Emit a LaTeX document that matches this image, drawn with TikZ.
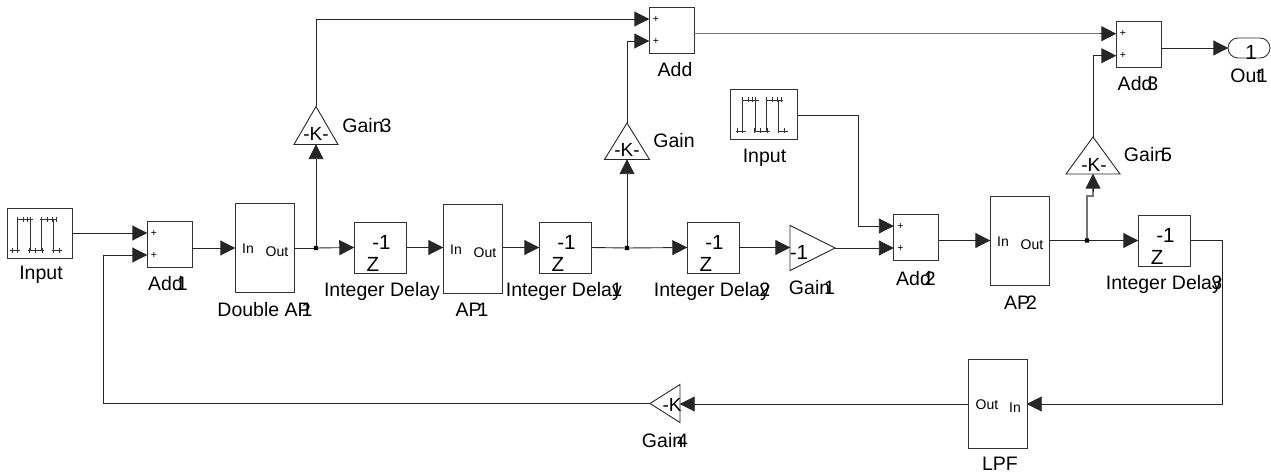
\documentclass[tikz,border=0pt]{standalone}
\usepackage{fontspec}
\setmainfont{Liberation Sans}
\usetikzlibrary{arrows.meta,shapes.geometric,shapes.misc}
\newcommand{\ov}[2]{\kern-#1pt #2}
\tikzset{
  x=1pt,y=-1pt,
  blk/.style={draw=black!80,line width=0.9pt,inner sep=0pt,outer sep=0pt,fill=white},
  tri/.style={draw=black!85,line width=0.9pt,inner sep=0pt,outer sep=0pt,isosceles triangle,isosceles triangle stretches},
  lbl/.style={inner sep=0pt,font=\fontsize{19.5}{21}\selectfont},
  port/.style={inner sep=0pt,font=\fontsize{14}{16}\selectfont},
  plus/.style={inner sep=0pt,font=\fontsize{10.5}{12}\selectfont},
  zt/.style={inner sep=0pt,font=\fontsize{20.5}{23}\selectfont},
  wire/.style={draw=black!85,line width=0.9pt,-{Triangle[length=15pt,width=15pt]},shorten >=-0.3pt},
  gwire/.style={draw=black!55,line width=1.5pt},
  seg/.style={draw=black!85,line width=0.9pt},
  tickl/.style={draw=black!80,line width=0.8pt}
}
% name, x0,y0,x1,y1
\newcommand{\blk}[5]{\node[blk,minimum width={#4-#2},minimum height={#5-#3},anchor=north west] (#1) at (#2,#3) {};}
\newcommand{\addblk}[3]{% name,x0,y0
  \blk{#1}{#2}{#3}{#2+45}{#3+46}
  \node[plus] (#1pa) at (#2+7,#3+12) {+};
  \node[plus] (#1pb) at (#2+7,#3+34) {+};
  \coordinate (#1a) at (#2,#3+12);
  \coordinate (#1b) at (#2,#3+34);}
\newcommand{\zblk}[3]{% name,x0,y0
  \blk{#1}{#2}{#3}{#2+52}{#3+51}
  \node[zt] (#1m) at (#2+27.5,#3+20) {-1};
  \node[zt] (#1z) at (#2+19,#3+42) {Z};}
\newcommand{\apblk}[3]{% name,x0,y0
  \blk{#1}{#2}{#3}{#2+59}{#3+89}
  \node[port] (#1i) at (#2+13,#3+46) {In};
  \node[port] (#1o) at (#2+42,#3+49) {Out};
  \coordinate (#1a) at (#2,#3+45);
  \coordinate (#1b) at (#2+59,#3+45);}
\newcommand{\pulse}[5]{% name,x0,y0,width,icon shift
  \blk{#1}{#2}{#3}{#2+#4}{#3+50.5}
  \begin{scope}[shift={(#2-7+#5,#3-208)}]
    \draw[tickl] (17,219)--(33,219) (40,219)--(57,219)
      (10,250)--(20,250) (28,250)--(44,250) (52,250)--(62,250);
    \draw[tickl] (17,219)--(17,250) (30,219)--(30,250) (41,219)--(41,250) (53,219)--(53,250);
    \foreach \t in {17,23,27,30,41,47,52,56}{\draw[tickl] (\t,216.5)--(\t,221.5);}
    \foreach \t in {12,17,29,35,42,53,59}{\draw[tickl] (\t,247.5)--(\t,252.5);}
  \end{scope}}
\begin{document}
\begin{tikzpicture}
\useasboundingbox (0,0) rectangle (1271,473);
% blocks
\pulse{inA}{7}{208}{65}{0}
\pulse{inB}{730.5}{89}{67}{2}
\addblk{addA}{147}{221}
\addblk{addB}{649}{7}
\addblk{addC}{893.5}{214}
\addblk{addD}{1116}{21.7}
\apblk{dap}{235}{203}
\apblk{apA}{443}{204}
\apblk{apB}{990}{196}
\zblk{idA}{354}{222}
\zblk{idB}{539}{222}
\zblk{idC}{687}{222}
\zblk{idD}{1138}{215}
% LPF
\blk{lpf}{968}{359}{1027}{448}
\node[port] (lpfo) at (987,405) {Out};
\node[port] (lpfi) at (1015,408) {In};
\coordinate (lpfa) at (1027,404);
\coordinate (lpfb) at (968,404);
% Out1
\node[blk,rounded rectangle,minimum width=42pt,minimum height=20pt,anchor=west] (out) at (1228,48) {};
\node[zt] (outn) at (1251,52) {1};
% triangles
\node[tri,shape border rotate=90,minimum width=44pt,minimum height=38pt,anchor=apex] (gA) at (316,106.5) {};
\node[tri,shape border rotate=90,minimum width=45pt,minimum height=36.5pt,anchor=apex] (gB) at (627,123) {};
\node[tri,shape border rotate=90,minimum width=54pt,minimum height=37pt,anchor=apex] (gC) at (1093,137) {};
\node[tri,shape border rotate=0,minimum width=45pt,minimum height=45pt,anchor=apex] (gD) at (835,248) {};
\node[tri,shape border rotate=180,minimum width=38pt,minimum height=30pt,anchor=apex] (gE) at (650,403.5) {};
\node[zt,font=\fontsize{19}{21}\selectfont] (gAt) at (316,134) {-K-};
\node[zt,font=\fontsize{19}{21}\selectfont] (gBt) at (627,150) {-K-};
\node[zt,font=\fontsize{19}{21}\selectfont] (gCt) at (1094,165) {-K-};
\node[zt] (gDt) at (799,252) {-1};
\node[zt,font=\fontsize{19}{21}\selectfont] (gEt) at (672,405) {-K};
% connectors
\coordinate (jA) at (316,248);
\coordinate (jB) at (627,248);
\coordinate (jC) at (1087,240.5);
\coordinate (idDo) at (idD.east);
\draw[wire] (inA.east |- addAa) -- (addAa);
\draw[wire] (gE.apex) -- (103,403.5) -- (103,255) -- (addAb);
\draw[wire] (addA.east |- dapa) -- (dapa);
\draw[seg] (dap.east |- jA) -- (jA);
\draw[wire] (jA) -- (idA.west);
\draw[wire] (idA.east) -- (idA.east -| apA.west);
\draw[wire] (apA.east |- idB.west) -- (idB.west);
\draw[seg] (idB.east) -- (jB);
\draw[wire] (jB) -- (idC.west);
\draw[wire] (idC.east) -- (gD.west |- idC.east);
\draw[wire] (gD.apex) -- (addCb);
\draw[wire] (addC.east |- jC) -- (apB.west |- jC);
\draw[seg] (apB.east |- jC) -- (jC);
\draw[wire] (jC) -- (idD.west);
\draw[wire] (idDo) -- (1222,240.5) -- (1222,404) -- (lpfa);
\draw[wire] (lpfb) -- (gE.east |- lpfb);
\draw[wire] (jA) -- (gA.south);
\draw[wire] (gA.apex) -- (316,19) -- (addBa);
\draw[wire] (jB) -- (gB.south);
\draw[wire] (gB.apex) -- (627,41) -- (addBb);
\draw[gwire] (addB.east |- addDa) -- (1103,33.7);
\draw[wire] (1100,33.7) -- (addDa);
\draw[gwire] (jC) -- (1087,196) -- (1093,196) -- (1093,188);
\draw[wire] (1093,192) -- (gC.south);
\draw[wire] (gC.apex) -- (1093,55.7) -- (addDb);
\draw[wire] (addD.east |- out.west) -- (out.west);
\draw[wire] (inB.east |- 0,115) -- (858,115) -- (858,226) -- (addCa);
\fill[black] (313.8,245.8) rectangle (318.2,250.2) (624.8,245.8) rectangle (629.2,250.2) (1084.8,238.3) rectangle (1089.2,242.7);
% labels
\node[lbl] (t1) at (41,275) {Input};
\node[lbl] (t2) at (168,284) {Add\ov{6}{1}};
\node[lbl] (t3) at (265,310) {Double AP\ov{9}{1}};
\node[lbl] (t4) at (382,291) {Integer Delay};
\node[lbl] (t5) at (472,310) {AP\ov{4}{1}};
\node[lbl] (t6) at (564,291) {Integer Delay\ov{10.5}{1}};
\node[lbl] (t7) at (712,291) {Integer Delay\ov{10.5}{2}};
\node[lbl] (t8) at (812,288) {Gain\ov{6}{1}};
\node[lbl] (t9) at (916,279) {Add\ov{6}{2}};
\node[lbl] (t10) at (1020.5,303) {AP\ov{4}{2}};
\node[lbl] (t11) at (1164,284) {Integer Delay\ov{10.5}{3}};
\node[lbl] (t12) at (1000,464) {LPF};
\node[lbl] (t13) at (665,441) {Gain\ov{6}{4}};
\node[lbl] (t14) at (675,70) {Add};
\node[lbl] (t15) at (1138,84) {Add\ov{5}{3}};
\node[lbl] (t16) at (1249,76) {Out\ov{5}{1}};
\node[lbl] (t17) at (764.5,158) {Input};
\node[lbl] (t18) at (367,126) {Gain\ov{3}{3}};
\node[lbl] (t19) at (674,141) {Gain};
\node[lbl] (t20) at (1148,155) {Gain\ov{4}{5}};
\end{tikzpicture}
\end{document}
